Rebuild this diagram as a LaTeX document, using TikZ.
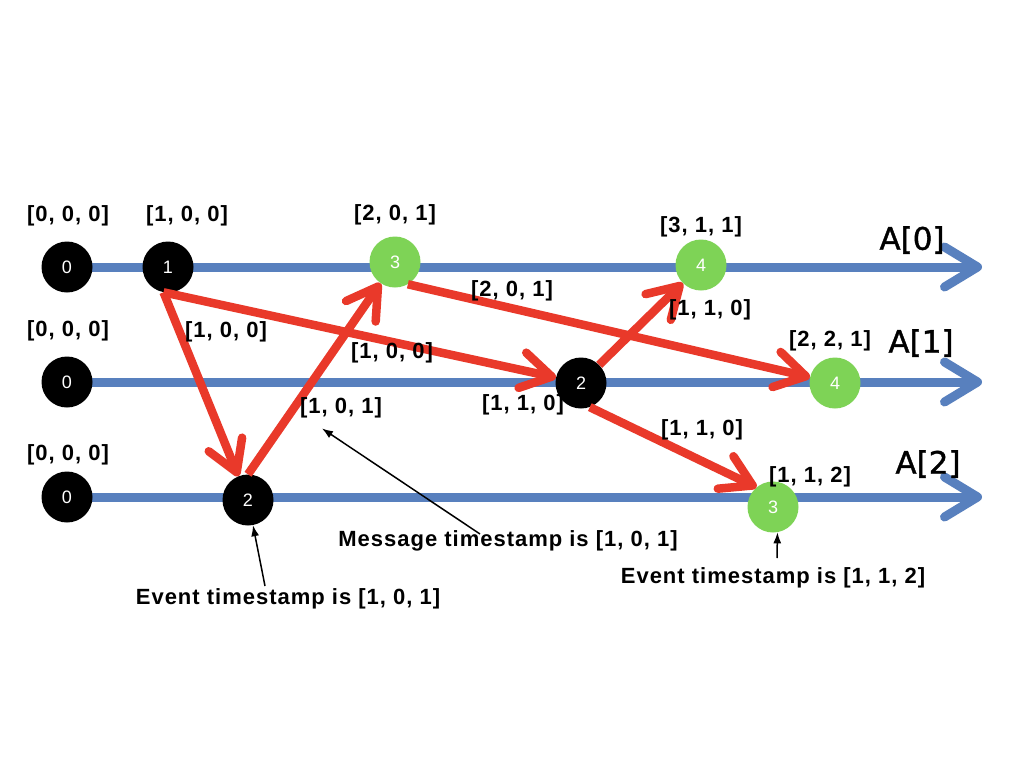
\documentclass[tikz,border=0pt]{standalone}
\usepackage{fontspec}
\setmainfont{Liberation Sans}
\newfontfamily\lblfont[LetterSpace=4.5]{Liberation Sans}
\newfontfamily\afont[FakeBold=1.2]{DejaVu Sans}
\usetikzlibrary{arrows.meta}
\definecolor{laneblue}{RGB}{88,128,190}
\definecolor{msgred}{RGB}{233,57,42}
\definecolor{evgreen}{RGB}{126,211,86}
\tikzset{
  lane/.style={line width=9pt, draw=laneblue, -{Straight Barb[length=33pt,width=40pt,round]}},
  msg/.style={line width=8.5pt, draw=msgred, -{Straight Barb[length=30pt,width=36pt,round]}},
  ev/.style={circle, fill=black, minimum size=51pt, inner sep=0pt, text=white, font=\fontsize{18}{18}\selectfont},
  gev/.style={ev, fill=evgreen},
  lbl/.style={inner sep=0pt, font=\lblfont\bfseries\fontsize{22}{22}\selectfont},
  alb/.style={inner sep=0pt, font=\afont\fontsize{31}{31}\selectfont},
  note/.style={line width=1.5pt, draw=black, -{Latex[length=11pt,width=8pt]}}
}
\begin{document}
\begin{tikzpicture}[x=1pt,y=-1pt]
\useasboundingbox[fill=white] (0,0) rectangle (1024,768);
% lanes
\coordinate (s0) at (67,267); \coordinate (e0) at (982,267);
\coordinate (s1) at (67,382); \coordinate (e1) at (982,382);
\coordinate (s2) at (67,497); \coordinate (e2) at (982,497);
\draw[lane] (s0) -- (e0);
\draw[lane] (s1) -- (e1);
\draw[lane] (s2) -- (e2);
% events
\node[ev]  (a00) at (67,267) {0};
\node[ev]  (a01) at (168,267) {1};
\node[gev] (a03) at (395,262) {3};
\node[gev] (a04) at (701,265) {4};
\node[ev]  (a10) at (67,382) {0};
\node[ev]  (a12) at (581,383) {2};
\node[gev] (a14) at (835,383) {4};
\node[ev]  (a20) at (67,497) {0};
\node[ev]  (a22) at (248,500) {2};
\node[gev] (a23) at (773,507) {3};
% messages
\draw[msg] (a01.-100) -- (a22);
\draw[msg] (a01.-100) -- (a12);
\draw[msg] (a22.north) -- (a03);
\draw[msg] (a03.-60) -- (a14);
\draw[msg] (a12.45) -- (a04);
\draw[msg] (a12.-70) -- (a23.130);
% timestamps
\node[lbl] (t00) at (68,216) {[0, 0, 0]};
\node[lbl] (t01) at (187,216) {[1, 0, 0]};
\node[lbl] (t03) at (395,215) {[2, 0, 1]};
\node[lbl] (t04) at (701,227) {[3, 1, 1]};
\node[lbl] (t10) at (68,331) {[0, 0, 0]};
\node[lbl] (t12) at (523,405) {[1, 1, 0]};
\node[lbl] (t14) at (830,341) {[2, 2, 1]};
\node[lbl] (t20) at (68,455) {[0, 0, 0]};
\node[lbl] (t23) at (810,477) {[1, 1, 2]};
% message labels
\node[lbl] (m1) at (226,332) {[1, 0, 0]};
\node[lbl] (m2) at (392,353) {[1, 0, 0]};
\node[lbl] (m3) at (341,408) {[1, 0, 1]};
\node[lbl] (m4) at (512,291) {[2, 0, 1]};
\node[lbl] (m5) at (710,310) {[1, 1, 0]};
\node[lbl] (m6) at (702,430) {[1, 1, 0]};
% process names
\node[alb] (A0) at (912,240) {A[0]};
\node[alb] (A1) at (921,343) {A[1]};
\node[alb] (A2) at (928,464) {A[2]};
% notes
\node[lbl] (n1) at (508,541) {Message timestamp is [1, 0, 1]};
\node[lbl] (n2) at (288,599) {Event timestamp is [1, 0, 1]};
\node[lbl] (n3) at (773,578) {Event timestamp is [1, 1, 2]};
\coordinate (c1) at (480,534);
\coordinate (c2) at (265,586);
\coordinate (c3) at (777,558);
\draw[note] (c1) -- ([xshift=-19pt,yshift=-10pt]m3.south);
\draw[note] (c2) -- (a22);
\draw[note] (c3) -- (a23.-80);
\end{tikzpicture}
\end{document}
